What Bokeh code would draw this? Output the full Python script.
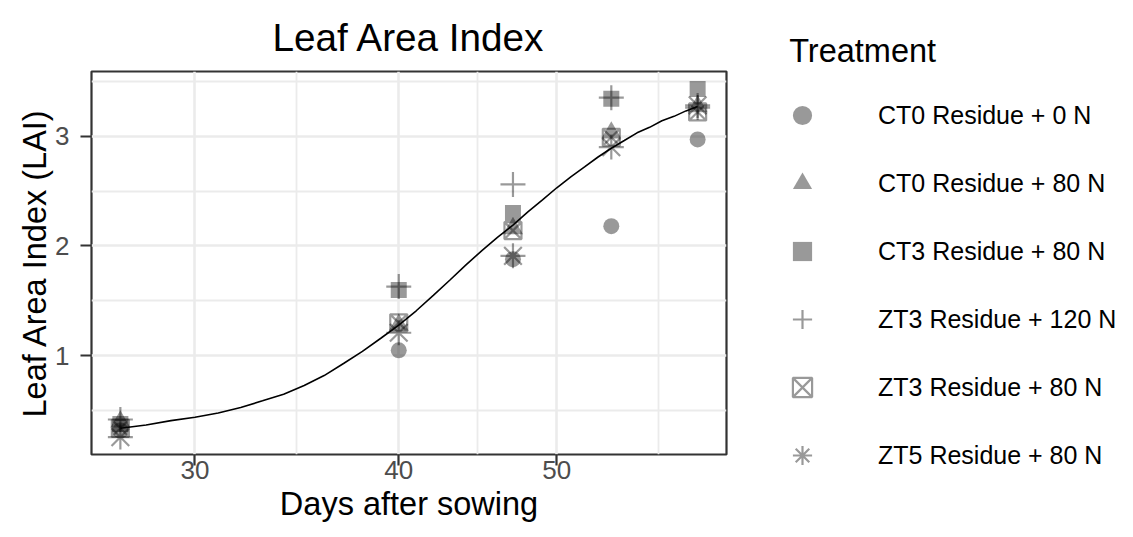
import math
from bokeh.plotting import figure
from bokeh.models import Range1d, FixedTicker, Legend, LegendItem
from bokeh.embed import file_html
from bokeh.resources import INLINE

# ---------------- data ----------------
days = [27, 40, 47, 54, 61]
treatments = ["CT0 Residue + 0 N", "CT0 Residue + 80 N", "CT3 Residue + 80 N",
              "ZT3 Residue + 120 N", "ZT3 Residue + 80 N", "ZT5 Residue + 80 N"]
lai_ct0_0n = [0.32, 1.05, 1.88, 2.18, 2.97]
lai_ct0_80n = [0.40, 1.28, 2.16, 3.03, 3.27]
lai_ct3_80n = [0.38, 1.60, 2.30, 3.34, 3.43]
lai_zt3_120n = [0.42, 1.63, 2.56, 3.35, 3.26]
lai_zt3_80n = [0.34, 1.30, 2.14, 2.99, 3.22]
lai_zt5_80n = [0.26, 1.21, 1.91, 2.90, 3.28]

# fitted growth curve
fit_days = [27, 28, 29, 30, 31, 32, 33, 34, 35, 36, 37, 38, 39, 40, 41, 42, 43, 44,
            45, 46, 47, 48, 49, 50, 51, 52, 53, 54, 55, 56, 57, 58, 59, 60, 61]
fit_lai = [0.34, 0.37, 0.41, 0.44, 0.48, 0.53, 0.59, 0.65, 0.73, 0.82, 0.93, 1.04,
           1.16, 1.28, 1.41, 1.55, 1.69, 1.83, 1.96, 2.08, 2.19, 2.31, 2.42, 2.53,
           2.63, 2.72, 2.81, 2.89, 2.96, 3.03, 3.08, 3.14, 3.18, 3.23, 3.27]

x_ticks = [30, 40, 50]
x_tick_labels = ["30", "40", "50"]
y_ticks = [1, 2, 3]
y_tick_labels = ["1", "2", "3"]

title_text = "Leaf Area Index"
x_title = "Days after sowing"
y_title = "Leaf Area Index (LAI)"
legend_title = "Treatment"

series = [lai_ct0_0n, lai_ct0_80n, lai_ct3_80n, lai_zt3_120n, lai_zt3_80n, lai_zt5_80n]

# ---------------- styles ----------------
FONT = "Liberation Sans"
markers = ["circle", "triangle", "square", "cross", "square_x", "asterisk"]
msizes = [16, 20, 16, 25, 17, 25]
filled = [True, True, True, False, False, False]


def style_kw(fl, sz, mk):
    if fl:
        return dict(marker=mk, size=sz, fill_color="black", fill_alpha=0.4, line_color=None)
    return dict(marker=mk, size=sz, fill_color=None, line_color="black",
                line_alpha=0.4, line_width=2.2)


BL, BT = 91, 70
FW, FH = 635, 383
BR, BB = 391, 68          # total 1117 x 521

# ranges: 5% expansion (log space for x)
all_y = [v for s in series for v in s]
lx0, lx1 = math.log(min(days)), math.log(max(days))
dx = 0.05 * (lx1 - lx0)
x0, x1 = math.exp(lx0 - dx), math.exp(lx1 + dx)
dy = 0.05 * (max(all_y) - min(all_y))
y0, y1 = min(all_y) - dy, max(all_y) + dy

p = figure(frame_width=FW, frame_height=FH, x_axis_type="log",
           x_range=Range1d(x0, x1), y_range=Range1d(y0, y1),
           output_backend="svg", toolbar_location=None,
           min_border_left=BL, min_border_right=BR,
           min_border_top=BT, min_border_bottom=BB)
p.background_fill_color = "white"
p.border_fill_color = "white"
p.outline_line_color = "#333333"
p.outline_line_width = 2.2

p.title.text = title_text
p.title.align = "center"
p.title.text_font = FONT
p.title.text_font_size = "38.7px"
p.title.text_font_style = "normal"
p.title.text_color = "black"
p.title.standoff = 26

# ticks & grid
minor_x = [math.sqrt(a * b) for a, b in zip(x_ticks, x_ticks[1:])]
minor_x.append(x_ticks[-1] * math.sqrt(x_ticks[1] / x_ticks[0]))
step_y = y_ticks[1] - y_ticks[0]
minor_y = ([y_ticks[0] - step_y / 2] + [(a + b) / 2 for a, b in zip(y_ticks, y_ticks[1:])]
           + [y_ticks[-1] + step_y / 2])

p.xaxis.ticker = FixedTicker(ticks=x_ticks, minor_ticks=minor_x)
p.yaxis.ticker = FixedTicker(ticks=y_ticks, minor_ticks=minor_y)
p.xaxis.major_label_overrides = dict(zip(x_ticks, x_tick_labels))
p.yaxis.major_label_overrides = dict(zip(y_ticks, y_tick_labels))

for ax in (p.xaxis, p.yaxis):
    ax.axis_line_color = None
    ax.major_tick_line_color = "#333333"
    ax.major_tick_line_width = 2.2
    ax.major_tick_out = 11
    ax.major_tick_in = 0
    ax.minor_tick_line_color = None
    ax.major_label_text_font = FONT
    ax.major_label_text_font_size = "26px"
    ax.major_label_text_color = "#4D4D4D"
    ax.axis_label_text_font = FONT
    ax.axis_label_text_font_size = "32.5px"
    ax.axis_label_text_font_style = "normal"
    ax.axis_label_text_color = "black"
p.xaxis.major_label_standoff = -5
p.yaxis.major_label_standoff = 11
p.xaxis.axis_label = x_title
p.yaxis.axis_label = y_title
p.xaxis.axis_label_standoff = 4
p.yaxis.axis_label_standoff = -1

for g in (p.xgrid, p.ygrid):
    g.grid_line_color = "#EBEBEB"
    g.grid_line_width = 2.6
    g.minor_grid_line_color = "#EBEBEB"
    g.minor_grid_line_width = 1.8

# points
renderers = []
for vals, mk, sz, fl in zip(series, markers, msizes, filled):
    renderers.append(p.scatter(days, vals, **style_kw(fl, sz, mk)))

# fitted curve
p.line(fit_days, fit_lai, line_color="black", line_width=1.6)

# legend, outside on the right
legend = Legend(items=[LegendItem(label=t, renderers=[r]) for t, r in zip(treatments, renderers)],
                title="\u00a0" * 7 + legend_title, location=(0, -25), orientation="vertical",
                glyph_width=152, glyph_height=48, label_height=48, label_width=10,
                label_standoff=0, spacing=20, padding=0, margin=0,
                title_standoff=21,
                border_line_color=None, background_fill_alpha=0,
                label_text_font=FONT, label_text_font_size="25px", label_text_color="black",
                title_text_font=FONT, title_text_font_size="32.5px",
                title_text_font_style="normal", title_text_color="black")
p.add_layout(legend, "right")

open("out.html", "w").write(file_html(p, INLINE))
